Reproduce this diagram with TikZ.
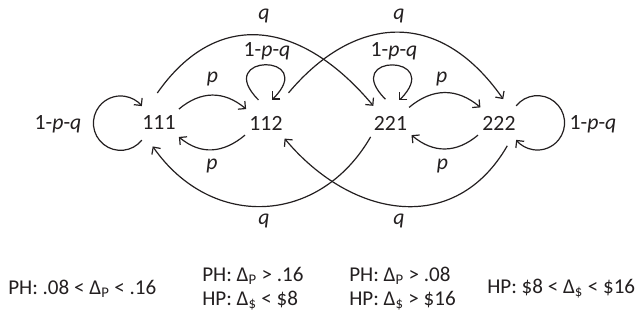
\documentclass[tikz,border=0pt]{standalone}
\usepackage{fontspec}
\setmainfont{Carlito}
\usetikzlibrary{arrows.meta}
\definecolor{ink}{RGB}{35,31,32}

\begin{document}
\begin{tikzpicture}[x=0.75pt, y=-0.75pt,
	every node/.style={font=\fontsize{16.3}{15}\selectfont, text=ink},
	state/.style={circle, minimum size=36pt, inner sep=0pt},
	lbl/.style={anchor=base, inner sep=0pt},
	cond/.style={anchor=west, inner sep=0pt, align=left, font=\fontsize{15.8}{15}\selectfont},
	arr/.style={-{Straight Barb[length=4pt,width=8pt]}, line width=0.9pt, draw=ink}]

		\useasboundingbox (0,0) rectangle (640,320);

		\node[state](s111) at (159,123){111};
		\node[state](s112) at (266,123){112};
		\node[state](s221) at (390.5,123){221};
		\node[state](s222) at (499,123){222};

		\node[lbl](stayA) at (58,130){1-\textit{p}-\textit{q}};
		\node[lbl](stayB) at (267,57){1-\textit{p}-\textit{q}};
		\node[lbl](stayC) at (394,57){1-\textit{p}-\textit{q}};
		\node[lbl](stayD) at (593,130){1-\textit{p}-\textit{q}};

		\node[lbl](pUpA) at (212.5,83){\textit{p}};
		\node[lbl](pUpB) at (441.7,83){\textit{p}};
		\node[lbl](pDownA) at (212,170){\textit{p}};
		\node[lbl](pDownB) at (442.5,170){\textit{p}};

		\node[lbl](qUpA) at (264,20){\textit{q}};
		\node[lbl](qUpB) at (399,20){\textit{q}};
		\node[lbl](qDownA) at (264,225){\textit{q}};
		\node[lbl](qDownB) at (399,225){\textit{q}};

		% self loops
		\draw[arr] (s111.225) arc[start angle=-38.7, end angle=-321.3, radius=20.4pt];
		\draw[arr] (s222.45) arc[start angle=141.3, end angle=-141.3, radius=20.4pt];
		\draw[arr] (s112.108) to[out=135, in=45, looseness=12.2] (s112.75);
		\draw[arr] (s221.102) to[out=135, in=45, looseness=12.2] (s221.69);

		% p moves
		\draw[arr] (s111.35) to[out=40, in=140, looseness=1.1] (s112.145);
		\draw[arr] (s112.210) to[out=220, in=320, looseness=1.1] (s111.325);
		\draw[arr] (s221.40) to[out=40, in=140, looseness=1.1] (s222.140);
		\draw[arr] (s222.210) to[out=220, in=320, looseness=1.1] (s221.330);

		% q moves
		\draw[arr, shorten <=6pt] (s111.105) to[out=55, in=130, looseness=1.3] (s221.135);
		\draw[arr, shorten <=10pt] (s112.55) to[out=50, in=125, looseness=1.3] (s222.80);
		\draw[arr] (s221.215) to[out=240, in=305, looseness=1.2] (s111.255);
		\draw[arr] (s222.290) to[out=240, in=310, looseness=1.2] (s112.320);

		\node[cond](condA) at (8,289){PH: .08 < Δ\textsubscript{P} < .16};
		\node[cond](condB) at (202,289){PH: Δ\textsubscript{P} > .16\\[3pt]HP: Δ\textsubscript{\$} < \$8};
		\node[cond](condC) at (349,289){PH: Δ\textsubscript{P} > .08\\[3pt]HP: Δ\textsubscript{\$} > \$16};
		\node[cond](condD) at (487,289){HP: \$8 < Δ\textsubscript{\$} < \$16};
	\end{tikzpicture}
\end{document}
